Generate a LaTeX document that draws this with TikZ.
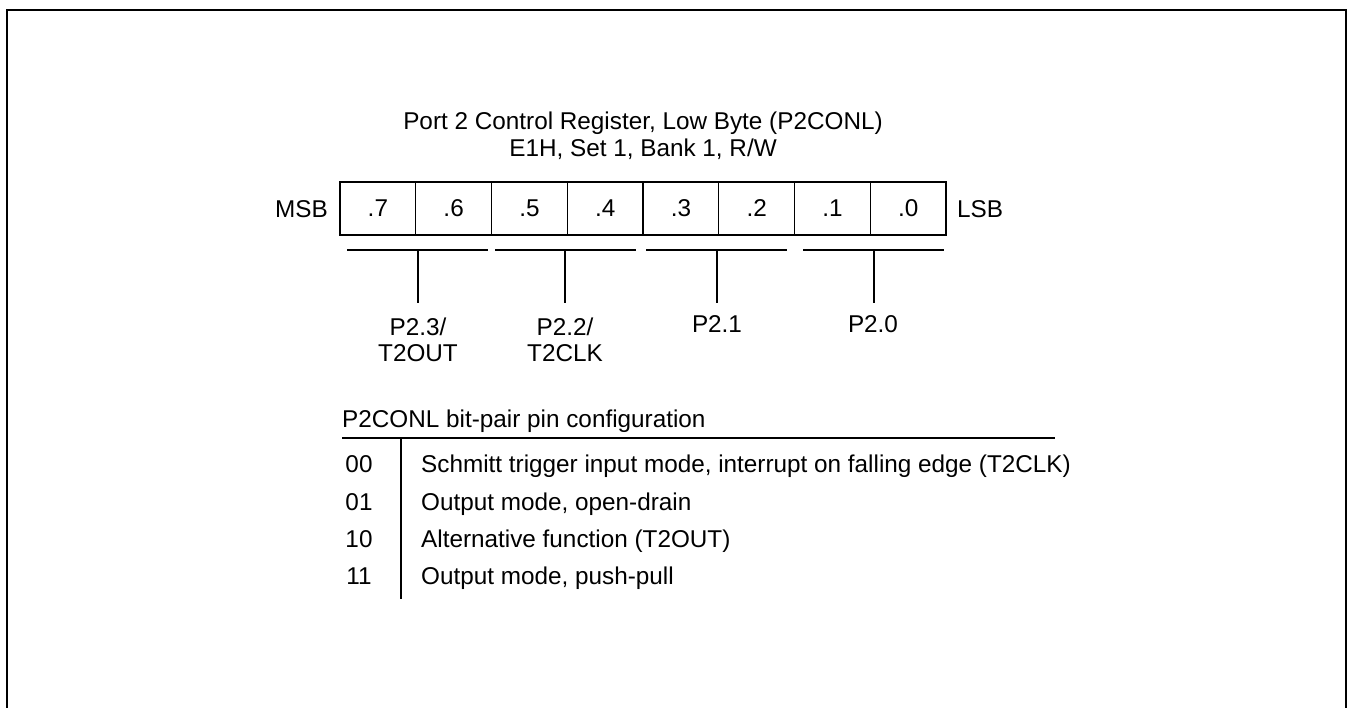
\documentclass[tikz,border=0pt]{standalone}
\usepackage{fontspec}
\setmainfont{Liberation Sans}
\begin{document}
\begin{tikzpicture}[x=1pt,y=-1pt,
  every node/.style={font=\fontsize{24.3}{26}\selectfont, inner sep=0pt},
  cell/.style={draw, line width=1.3pt, minimum width=75.75pt, minimum height=53pt},
  rule/.style={line width=1.3pt},
  frameline/.style={line width=2pt}]
\useasboundingbox (0,0) rectangle (1348,708);
% frame (bottom edge lies outside the picture)
\draw[frameline] (7,720) -- (7,10) -- (1346,10) -- (1346,720);
% title
\node[anchor=base] (t1) at (643,129.5) {Port 2 Control Register, Low Byte (P2CONL)};
\node[anchor=base] (t2) at (643,157) {E1H, Set 1, Bank 1, R/W};
% register cells
\foreach \i/\t in {0/.7,1/.6,2/.5,3/.4,4/.3,5/.2,6/.1,7/.0}
  \node[cell] (b\i) at ({340+75.75*(\i+0.5)},208.5) {\t};
\node[anchor=base east] (msb) at (328,218) {MSB};
\node[anchor=base west] (lsb) at (957,218) {LSB};
% brackets
\foreach \p/\l/\r/\s in {0/347/488/418, 1/495/636/565, 2/646/787/717, 3/803/944/874}{
  \coordinate (l\p) at (\l,250);
  \coordinate (r\p) at (\r,250);
  \coordinate (s\p) at (\s,250);
  \coordinate (e\p) at (\s,303);
  \draw[rule] (l\p) -- (r\p);
  \draw[rule] (s\p) -- (e\p);
}
% pin labels (anchor base = baseline of the last line)
\node[anchor=base, align=center] (p3) at (418,361) {P2.3/\\T2OUT};
\node[anchor=base, align=center] (p2) at (565,361) {P2.2/\\T2CLK};
\node[anchor=base] (p1) at (717,332) {P2.1};
\node[anchor=base] (p0) at (873,332) {P2.0};
% configuration table
\node[anchor=base west] (th) at (342,427) {P2CONL bit-pair pin configuration};
\coordinate (hl) at (342,438);
\coordinate (hr) at (1055,438);
\coordinate (vt) at (401,438);
\coordinate (vb) at (401,599);
\draw[rule] (hl) -- (hr);
\draw[rule] (vt) -- (vb);
\foreach \k/\c/\d/\y in {0/00/{Schmitt trigger input mode, interrupt on falling edge (T2CLK)}/472,
                         1/01/{Output mode, open-drain}/510,
                         2/10/{Alternative function (T2OUT)}/547,
                         3/11/{Output mode, push-pull}/584}{
  \node[anchor=base] (code\k) at (359,\y) {\c};
  \node[anchor=base west] (desc\k) at (421,\y) {\d};
}
\end{tikzpicture}
\end{document}
